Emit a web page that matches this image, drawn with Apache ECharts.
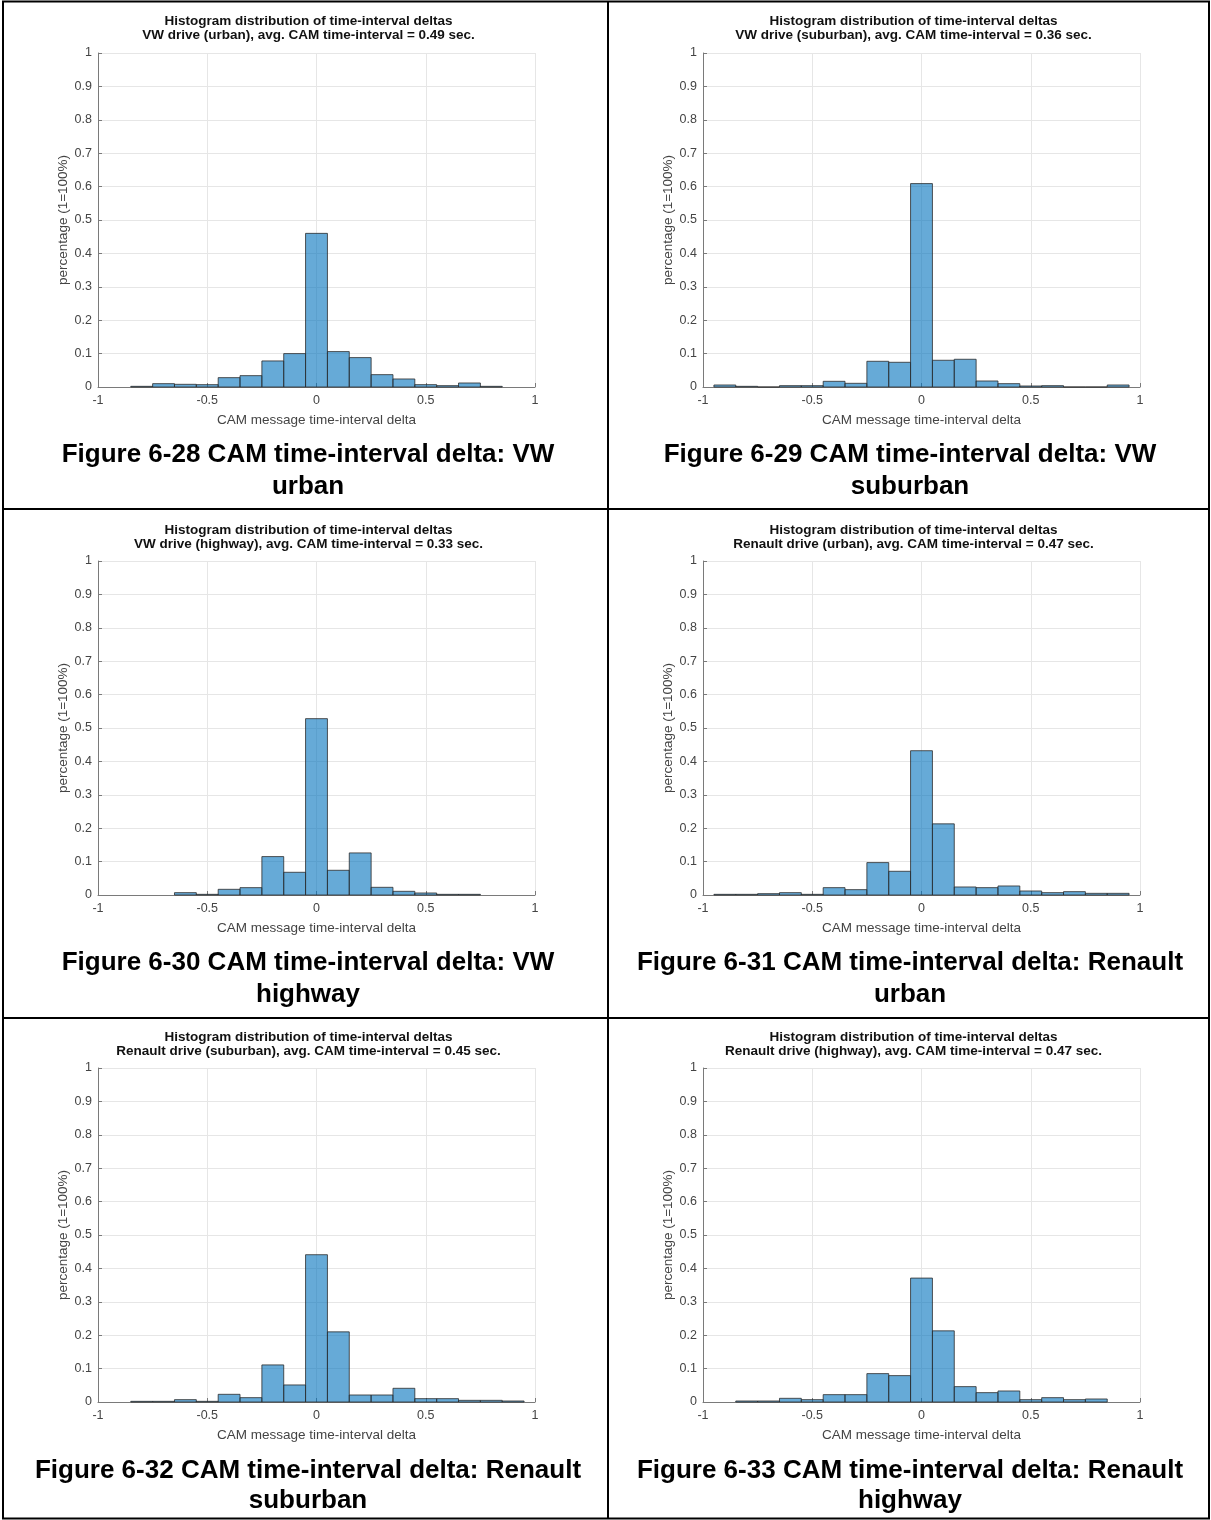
<!DOCTYPE html>
<html>
<head>
<meta charset="utf-8">
<script src="https://cdn.jsdelivr.net/npm/echarts@6/dist/echarts.min.js"></script>
<style>
  html, body { margin: 0; padding: 0; background: #fff; }
  #chart { width: 1211px; height: 1520px; }
</style>
</head>
<body>
<div id="chart"></div>
<script>
// histogram bins (width 0.1), null = bin not present
const binCenters = [-0.9, -0.8, -0.7, -0.6, -0.5, -0.4, -0.3, -0.2, -0.1, 0, 0.1, 0.2, 0.3, 0.4, 0.5, 0.6, 0.7, 0.8, 0.9]
const vwUrban = [null, 0.002, 0.010, 0.008, 0.007, 0.028, 0.034, 0.078, 0.100, 0.460, 0.106, 0.088, 0.037, 0.024, 0.007, 0.004, 0.012, 0.002, null]
const vwSuburban = [0.006, 0.002, 0, 0.004, 0.004, 0.017, 0.011, 0.077, 0.074, 0.609, 0.080, 0.083, 0.018, 0.010, 0.003, 0.004, 0, 0, 0.006]
const vwHighway = [null, null, null, 0.007, 0.002, 0.017, 0.022, 0.115, 0.068, 0.528, 0.074, 0.126, 0.023, 0.011, 0.006, 0.002, 0.002, null, null]
const renaultUrban = [0.002, 0.002, 0.004, 0.007, 0.002, 0.022, 0.016, 0.097, 0.071, 0.432, 0.213, 0.024, 0.022, 0.027, 0.012, 0.007, 0.010, 0.005, 0.005]
const renaultSuburban = [null, 0.002, 0.002, 0.007, 0.002, 0.023, 0.013, 0.111, 0.051, 0.441, 0.210, 0.021, 0.021, 0.041, 0.010, 0.010, 0.005, 0.005, 0.003]
const renaultHighway = [null, 0.003, 0.003, 0.011, 0.007, 0.022, 0.022, 0.085, 0.079, 0.371, 0.213, 0.046, 0.028, 0.033, 0.007, 0.013, 0.007, 0.009, null]

const titleTop = 'Histogram distribution of time-interval deltas'
const subTitles = [
  'VW drive (urban), avg. CAM time-interval = 0.49 sec.',
  'VW drive (suburban), avg. CAM time-interval = 0.36 sec.',
  'VW drive (highway), avg. CAM time-interval = 0.33 sec.',
  'Renault drive (urban), avg. CAM time-interval = 0.47 sec.',
  'Renault drive (suburban), avg. CAM time-interval = 0.45 sec.',
  'Renault drive (highway), avg. CAM time-interval = 0.47 sec.'
]
const captions = [
  ['Figure 6-28 CAM time-interval delta: VW', 'urban'],
  ['Figure 6-29 CAM time-interval delta: VW', 'suburban'],
  ['Figure 6-30 CAM time-interval delta: VW', 'highway'],
  ['Figure 6-31 CAM time-interval delta: Renault', 'urban'],
  ['Figure 6-32 CAM time-interval delta: Renault', 'suburban'],
  ['Figure 6-33 CAM time-interval delta: Renault', 'highway']
]
const xName = 'CAM message time-interval delta'
const yName = 'percentage (1=100%)'
const allSeries = [vwUrban, vwSuburban, vwHighway, renaultUrban, renaultSuburban, renaultHighway]

// layout
const colLeft = [98, 703]
const colCenter = [308, 910]
const plotW = 437
const rows = [
  { top: 53, h: 334, t1: 21, t2: 35, c1: 455, c2: 487 },
  { top: 561, h: 334, t1: 530, t2: 544, c1: 963, c2: 995 },
  { top: 1068, h: 334, t1: 1037, t2: 1051, c1: 1471, c2: 1501 }
]

var myChart = echarts.init(document.getElementById('chart'), null, { renderer: 'canvas' })

const grids = [], xAxes = [], yAxes = [], series = [], graphics = []
const axisColor = '#7a7a7a'
const labelColor = '#444'
const font = 'Liberation Sans'

allSeries.forEach(function (vals, i) {
  const r = rows[Math.floor(i / 2)]
  const c = i % 2
  grids.push({ left: colLeft[c], top: r.top, width: plotW, height: r.h })
  xAxes.push({
    gridIndex: i, type: 'value', min: -1, max: 1, interval: 0.5,
    name: xName, nameLocation: 'middle', nameGap: 26,
    nameTextStyle: { fontFamily: font, fontSize: 13.5, color: labelColor },
    axisLine: { show: true, onZero: false, lineStyle: { color: axisColor, width: 1 } },
    axisTick: { show: true, inside: true, length: 4, lineStyle: { color: axisColor } },
    axisLabel: { fontFamily: font, fontSize: 12.5, color: labelColor, margin: 7 },
    splitLine: { show: true, lineStyle: { color: '#e6e6e6', width: 1 } }
  })
  yAxes.push({
    gridIndex: i, type: 'value', min: 0, max: 1, interval: 0.1,
    name: yName, nameLocation: 'middle', nameGap: 28, nameRotate: 90,
    nameTextStyle: { fontFamily: font, fontSize: 13.5, color: labelColor },
    axisLine: { show: true, onZero: false, lineStyle: { color: axisColor, width: 1 } },
    axisTick: { show: true, inside: true, length: 4, lineStyle: { color: axisColor } },
    axisLabel: { fontFamily: font, fontSize: 12.5, color: labelColor, margin: 6 },
    splitLine: { show: true, lineStyle: { color: '#e6e6e6', width: 1 } }
  })
  const data = []
  binCenters.forEach(function (b, k) {
    if (vals[k] !== null) data.push([b, vals[k]])
  })
  series.push({
    type: 'custom',
    xAxisIndex: i,
    yAxisIndex: i,
    data: data,
    z: 5,
    renderItem: function (params, api) {
      const x = api.value(0), v = api.value(1)
      const p0 = api.coord([x - 0.05, v])
      const p1 = api.coord([x + 0.05, 0])
      return {
        type: 'rect',
        shape: { x: p0[0], y: p0[1], width: p1[0] - p0[0], height: p1[1] - p0[1] },
        style: { fill: 'rgba(0,114,189,0.6)', stroke: '#2b2b2b', lineWidth: 0.8 }
      }
    }
  })
  const cx = colLeft[c] + plotW / 2 - 8
  graphics.push({
    type: 'text', x: cx, y: r.t1,
    style: { text: titleTop, align: 'center', verticalAlign: 'middle', font: 'bold 13.5px "Liberation Sans"', fill: '#111' }
  })
  graphics.push({
    type: 'text', x: cx, y: r.t2,
    style: { text: subTitles[i], align: 'center', verticalAlign: 'middle', font: 'bold 13.5px "Liberation Sans"', fill: '#111' }
  })
  graphics.push({
    type: 'text', x: colCenter[c], y: r.c1,
    style: { text: captions[i][0], align: 'center', verticalAlign: 'middle', font: 'bold 26px "Liberation Sans"', fill: '#000' }
  })
  graphics.push({
    type: 'text', x: colCenter[c], y: r.c2,
    style: { text: captions[i][1], align: 'center', verticalAlign: 'middle', font: 'bold 26px "Liberation Sans"', fill: '#000' }
  })
})

// table borders
graphics.push({ type: 'rect', shape: { x: 3, y: 1.5, width: 1206, height: 1517 }, style: { fill: 'none', stroke: '#000', lineWidth: 2 } })
graphics.push({ type: 'line', shape: { x1: 608, y1: 1, x2: 608, y2: 1519 }, style: { stroke: '#000', lineWidth: 2 } })
graphics.push({ type: 'line', shape: { x1: 3, y1: 509, x2: 1209, y2: 509 }, style: { stroke: '#000', lineWidth: 2 } })
graphics.push({ type: 'line', shape: { x1: 3, y1: 1018, x2: 1209, y2: 1018 }, style: { stroke: '#000', lineWidth: 2 } })

const option = {
  animation: false,
  backgroundColor: '#fff',
  grid: grids,
  xAxis: xAxes,
  yAxis: yAxes,
  series: series,
  graphic: graphics
}

myChart.setOption(option)
</script>
</body>
</html>
